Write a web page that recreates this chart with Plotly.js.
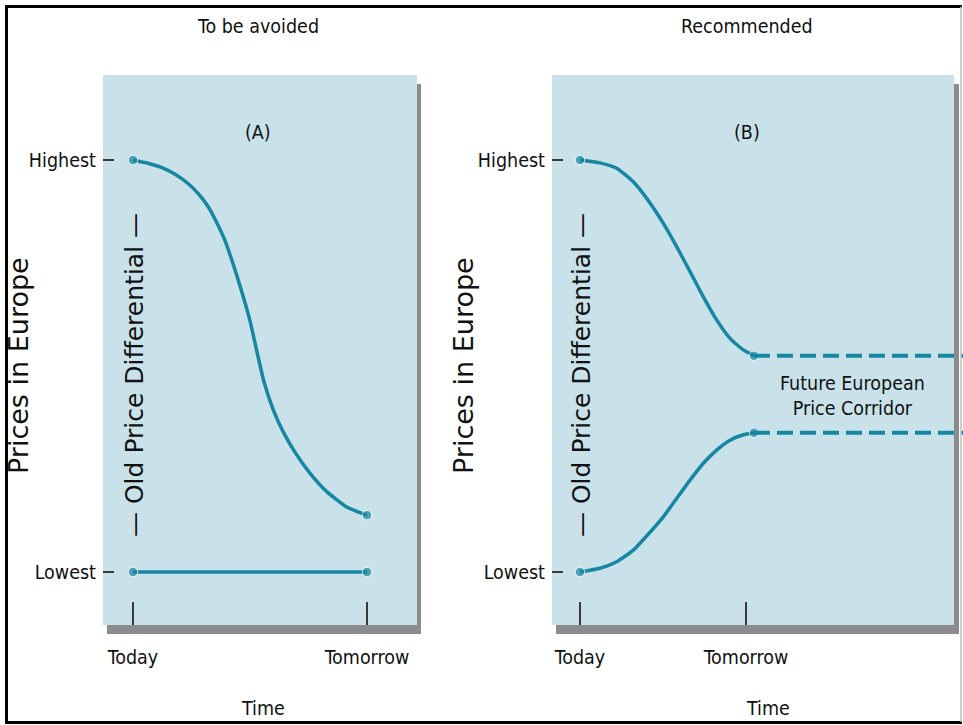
<!DOCTYPE html>
<html>
<head>
<meta charset="utf-8">
<script src="https://cdn.plot.ly/plotly-3.0.1.min.js"></script>
<style>html,body{margin:0;padding:0;background:#fff;}#chart{width:963px;height:725px;}</style>
</head>
<body>
<div id="chart"></div>
<script>
// ---- data (x: Today=0, Tomorrow=1; y: Lowest=0, Highest=1) ----
const xTickVals = [0, 1];
const xTickText = ["Today", "Tomorrow"];
const yTickVals = [0, 1];
const yTickText = ["Lowest", "Highest"];

const aCurveX = [0, 0.064, 0.121, 0.178, 0.235, 0.278, 0.321, 0.356, 0.392, 0.427, 0.463, 0.499, 0.530, 0.560, 0.600, 0.642, 0.692, 0.756, 0.828, 0.913, 1.0];
const aCurveY = [1.0, 0.992, 0.982, 0.966, 0.943, 0.919, 0.887, 0.850, 0.806, 0.749, 0.684, 0.612, 0.534, 0.461, 0.393, 0.340, 0.291, 0.240, 0.195, 0.158, 0.138];
const aLowX = [0, 1];
const aLowY = [0, 0];

const bUpperX = [0, 0.120, 0.221, 0.321, 0.416, 0.502, 0.583, 0.663, 0.743, 0.823, 0.904, 0.984, 1.048];
const bUpperY = [1.0, 0.993, 0.980, 0.947, 0.899, 0.846, 0.789, 0.729, 0.668, 0.612, 0.567, 0.539, 0.525];
const bLowerX = [0, 0.120, 0.221, 0.321, 0.416, 0.502, 0.583, 0.663, 0.743, 0.823, 0.904, 0.984, 1.048];
const bLowerY = [0, 0.009, 0.025, 0.053, 0.094, 0.134, 0.179, 0.223, 0.264, 0.296, 0.320, 0.333, 0.338];
const corridorX = [1.048, 2.31];
const corridorHigh = [0.525, 0.525];
const corridorLow = [0.338, 0.338];

// ---- styling ----
const W = 963, H = 725;
const px = v => v / W;
const py = v => 1 - v / H;
const TEAL = "#1786a2";
const PANEL = "#c9e2e9";
const SHADOW = "#8c8c8c";
const NARROW = "Liberation Sans Narrow, DejaVu Sans Condensed, Arial Narrow, sans-serif";
const WIDE = "DejaVu Sans, Verdana, sans-serif";
const FS = 19.5;

function endSizes(arr, s) { return arr.map((_, i) => (i === 0 || i === arr.length - 1) ? s : 0); }

function curve(x, y, xa, ya) {
  return {
    x: x, y: y, xaxis: xa, yaxis: ya, type: "scatter", mode: "lines+markers",
    line: {color: TEAL, width: 3.5, shape: "spline", smoothing: 0.5},
    marker: {color: TEAL, size: endSizes(x, 9.5)},
    hoverinfo: "skip", showlegend: false, cliponaxis: false
  };
}
function dashed(x, y, xa, ya) {
  return {
    x: x, y: y, xaxis: xa, yaxis: ya, type: "scatter", mode: "lines",
    line: {color: TEAL, width: 4, dash: "16px,7px"},
    hoverinfo: "skip", showlegend: false
  };
}

const traces = [
  curve(aCurveX, aCurveY, "x", "y"),
  curve(aLowX, aLowY, "x", "y"),
  curve(bUpperX, bUpperY, "x2", "y2"),
  curve(bLowerX, bLowerY, "x2", "y2"),
  dashed(corridorX, corridorHigh, "x2", "y2"),
  dashed(corridorX, corridorLow, "x2", "y2")
];

function xAxis(domainPx, rangeVals, anchor) {
  return {
    domain: [px(domainPx[0]), px(domainPx[1])], range: rangeVals, anchor: anchor,
    tickvals: xTickVals, ticktext: xTickText, ticks: "inside", ticklen: 23,
    tickwidth: 1.5, tickcolor: "#3a3a3a", showgrid: false, zeroline: false, showline: false,
    ticklabelstandoff: 18,
    tickfont: {family: NARROW, size: FS, color: "#111"}, fixedrange: true
  };
}
function yAxis(anchor) {
  return {
    domain: [py(625), py(75)], range: [(572 - 625) / 412, (572 - 75) / 412], anchor: anchor,
    tickvals: yTickVals, ticktext: yTickText, ticks: "inside", ticklen: 11,
    tickwidth: 2, tickcolor: "#3a3a3a", showgrid: false, zeroline: false, showline: false,
    ticklabelstandoff: 6,
    tickfont: {family: NARROW, size: FS, color: "#111"}, fixedrange: true
  };
}

function rectPx(x0, y0, x1, y1, color) {
  return {type: "rect", xref: "paper", yref: "paper", x0: px(x0), x1: px(x1), y0: py(y1), y1: py(y0),
          fillcolor: color, line: {width: 0}, layer: "below"};
}
function linePx(x0, y0, x1, y1, color, w) {
  return {type: "line", xref: "paper", yref: "paper", x0: px(x0), x1: px(x1), y0: py(y0), y1: py(y1),
          line: {color: color, width: w}, layer: "above"};
}

function note(text, x, y, font, size, angle) {
  return {text: text, xref: "paper", yref: "paper", x: px(x), y: py(y), xanchor: "center", yanchor: "middle",
          showarrow: false, textangle: angle || 0, font: {family: font, size: size, color: "#111"}};
}

const layout = {
  width: W, height: H,
  margin: {l: 0, r: 0, t: 0, b: 0, pad: 0},
  paper_bgcolor: "#ffffff", plot_bgcolor: "rgba(0,0,0,0)",
  showlegend: false,
  xaxis: xAxis([103, 417], [(103 - 133) / 234, (417 - 133) / 234], "y"),
  yaxis: yAxis("x"),
  xaxis2: xAxis([552, 963], [(552 - 580) / 166, (963 - 580) / 166], "y2"),
  yaxis2: yAxis("x2"),
  shapes: [
    rectPx(107, 84, 421, 634, SHADOW),
    rectPx(103, 75, 417, 625, PANEL),
    rectPx(556, 84, 959, 634, SHADOW),
    rectPx(552, 75, 954, 625, PANEL),
    linePx(6.5, 6.5, 962, 6.5, "#000", 3),
    linePx(6.5, 5, 6.5, 724, "#000", 3),
    linePx(5, 722.5, 962, 722.5, "#000", 3),
    linePx(961, 6.5, 961, 722, "#bdbdbd", 1.5)
  ],
  annotations: [
    note("To be avoided", 258, 27, NARROW, FS),
    note("Recommended", 747, 27, NARROW, FS),
    note("(A)", 258, 132, NARROW, FS),
    note("(B)", 747, 132, NARROW, FS),
    note("Time", 263, 708, NARROW, FS),
    note("Time", 768, 708, NARROW, FS),
    note("Prices in Europe", 18, 366, WIDE, 27, -90),
    note("Prices in Europe", 463, 366, WIDE, 27, -90),
    note("\u2014 Old Price Differential \u2014", 134, 375, WIDE, 25, -90),
    note("\u2014 Old Price Differential \u2014", 581, 375, WIDE, 25, -90),
    note("Future European<br>Price Corridor", 852, 396, NARROW, FS)
  ]
};

Plotly.newPlot("chart", traces, layout, {displayModeBar: false, staticPlot: true});
</script>
</body>
</html>
